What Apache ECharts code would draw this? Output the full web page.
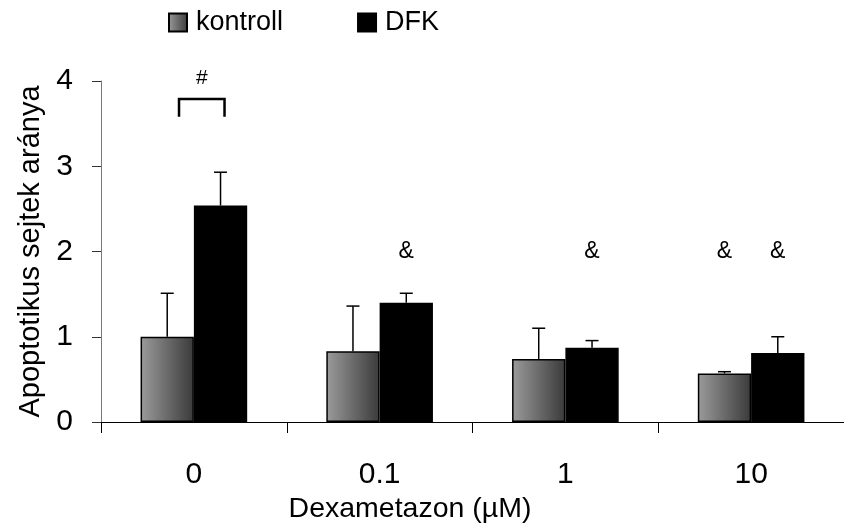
<!DOCTYPE html>
<html>
<head>
<meta charset="utf-8">
<script src="https://cdn.jsdelivr.net/npm/echarts@6/dist/echarts.min.js"></script>
<style>html,body{margin:0;padding:0;background:#fff}#c{width:844px;height:529px}</style>
</head>
<body>
<div id="c"></div>
<script>
const categories = ['0', '0.1', '1', '10'];
const kontroll = [1.00, 0.83, 0.74, 0.57];
const dfk = [2.54, 1.40, 0.87, 0.81];
const kontrollErrTop = [1.51, 1.36, 1.10, 0.59];
const dfkErrTop = [2.93, 1.51, 0.955, 1.00];
const yTicks = [0, 1, 2, 3, 4];
// significance marks: [category index, y value, series (0 kontroll, 1 DFK)]
const ampMarks = [[1, 2.0, 1], [2, 2.0, 1], [3, 2.0, 0], [3, 2.0, 1]];
// bracket: [category index, low y, top y, label y]
const bracket = [[0, 3.58, 3.79, 4.03]];

const FONT = 'Liberation Sans, Arial, sans-serif';
const BARW = 0.287;

const chart = echarts.init(document.getElementById('c'), null, {renderer: 'canvas'});

function errRender(sign) {
  return function (params, api) {
    const cat = api.value(0);
    const base = api.coord([cat, api.value(1)]);
    const top = api.coord([cat, api.value(2)]);
    const band = api.size([1, 0])[0];
    const x = base[0] + sign * band * BARW / 2;
    const st = {stroke: '#000', lineWidth: 1.5};
    return {type: 'group', children: [
      {type: 'line', shape: {x1: x, y1: base[1], x2: x, y2: top[1]}, style: st},
      {type: 'line', shape: {x1: x - 6.5, y1: top[1], x2: x + 6.5, y2: top[1]}, style: st}
    ]};
  };
}

const option = {
  animation: false,
  backgroundColor: '#fff',
  grid: {left: 101, top: 81, width: 752, bottom: 106, containLabel: false},
  legend: {
    data: ['kontroll', 'DFK'],
    left: 163, top: 4,
    itemWidth: 18, itemHeight: 18, itemGap: 74,
    icon: 'rect',
    textStyle: {fontFamily: FONT, fontSize: 27, color: '#000', padding: [0, 0, 0, 4]}
  },
  xAxis: {
    type: 'category',
    data: categories,
    name: 'Dexametazon (µM)',
    nameLocation: 'middle',
    nameGap: 73,
    nameTextStyle: {fontFamily: FONT, fontSize: 28.5, color: '#000', padding: [0, 125, 0, 0]},
    axisLine: {lineStyle: {color: '#000', width: 1}},
    axisTick: {show: true, length: 11, lineStyle: {color: '#000'}},
    axisLabel: {fontFamily: FONT, fontSize: 30, color: '#000', margin: 38}
  },
  yAxis: {
    type: 'value',
    min: 0, max: 4, interval: 1,
    name: 'Apoptotikus sejtek aránya',
    nameLocation: 'middle',
    nameGap: 55,
    nameTextStyle: {fontFamily: FONT, fontSize: 29, color: '#000'},
    splitLine: {show: false},
    axisLine: {show: true, lineStyle: {color: '#777', width: 1}},
    axisTick: {show: true, length: 9, lineStyle: {color: '#333'}},
    axisLabel: {fontFamily: FONT, fontSize: 30, color: '#000', margin: 28,
      formatter: v => yTicks.includes(v) ? String(v) : ''}
  },
  series: [
    {
      name: 'kontroll', type: 'bar', data: kontroll,
      barWidth: (BARW * 100) + '%', barGap: '0%',
      itemStyle: {
        color: new echarts.graphic.LinearGradient(0, 0, 1, 0, [
          {offset: 0, color: '#9b9b9b'}, {offset: 1, color: '#3a3a3a'}]),
        borderColor: '#000', borderWidth: 1.5
      }
    },
    {
      name: 'DFK', type: 'bar', data: dfk,
      barWidth: (BARW * 100) + '%', barGap: '0%',
      itemStyle: {color: '#000', borderColor: '#000', borderWidth: 1.5}
    },
    {
      type: 'custom', name: 'errK', renderItem: errRender(-1),
      data: kontroll.map((v, i) => [i, v, kontrollErrTop[i]]),
      encode: {x: 0, y: [1, 2]}, z: 3
    },
    {
      type: 'custom', name: 'errD', renderItem: errRender(1),
      data: dfk.map((v, i) => [i, v, dfkErrTop[i]]),
      encode: {x: 0, y: [1, 2]}, z: 3
    },
    {
      type: 'custom', name: 'amp',
      renderItem: function (params, api) {
        const cat = api.value(0);
        const p = api.coord([cat, api.value(1)]);
        const band = api.size([1, 0])[0];
        const sign = api.value(2) ? 1 : -1;
        return {type: 'text', style: {
          x: p[0] + sign * band * BARW / 2, y: p[1], text: '&',
          font: '23px ' + FONT, fill: '#000', align: 'center', verticalAlign: 'middle'}};
      },
      data: ampMarks, encode: {x: 0, y: 1}, z: 4
    },
    {
      type: 'custom', name: 'bracket',
      renderItem: function (params, api) {
        const cat = api.value(0);
        const lo = api.coord([cat, api.value(1)]);
        const hi = api.coord([cat, api.value(2)]);
        const lab = api.coord([cat, api.value(3)]);
        const band = api.size([1, 0])[0];
        const x1 = lo[0] - band * 0.08, x2 = lo[0] + band * 0.165;
        return {type: 'group', children: [
          {type: 'polyline', shape: {points: [[x1, lo[1]], [x1, hi[1]], [x2, hi[1]], [x2, lo[1]]]},
            style: {stroke: '#000', lineWidth: 2.5, fill: null}},
          {type: 'text', style: {x: (x1 + x2) / 2, y: lab[1], text: '#',
            font: '21px ' + FONT, fill: '#000', align: 'center', verticalAlign: 'middle'}}
        ]};
      },
      data: bracket, encode: {x: 0, y: [1, 2, 3]}, z: 4
    }
  ]
};
chart.setOption(option);
</script>
</body>
</html>
